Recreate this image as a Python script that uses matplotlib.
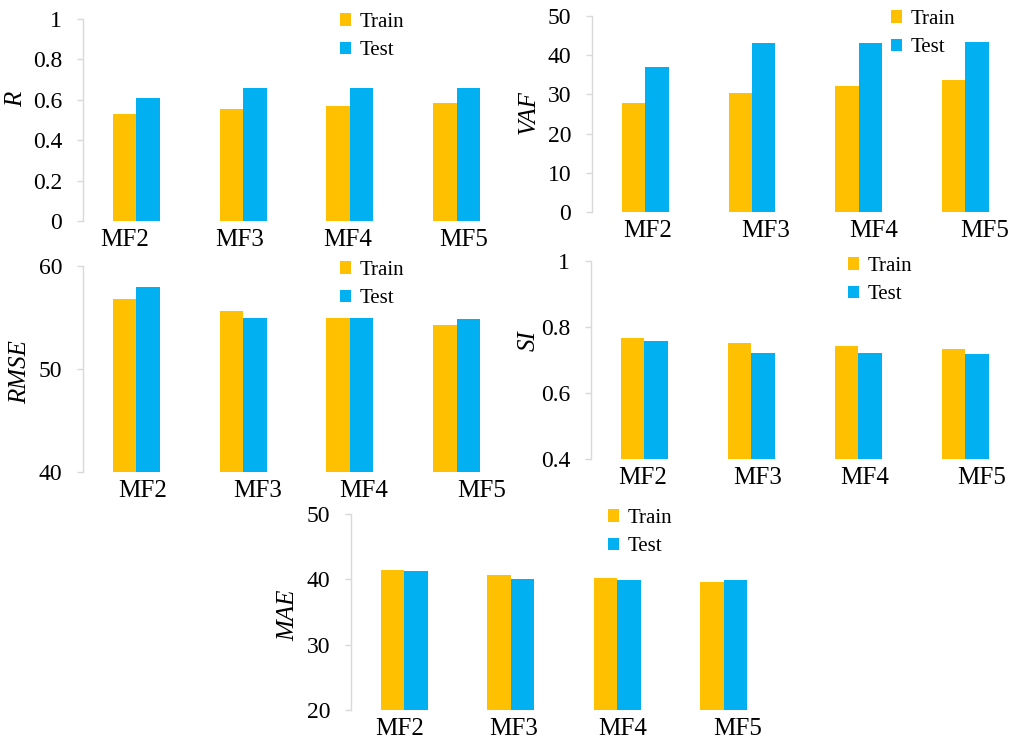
import matplotlib
matplotlib.use('Agg')
from matplotlib import pyplot as plt
import numpy as np

plt.rcParams['font.family'] = ['Liberation Serif', 'DejaVu Serif']

models = ['MF2', 'MF3', 'MF4', 'MF5']

r_train = [0.528, 0.554, 0.568, 0.584]
r_test = [0.607, 0.660, 0.660, 0.660]

vaf_train = [27.7, 30.4, 32.1, 33.8]
vaf_test = [36.9, 43.0, 43.2, 43.4]

rmse_train = [56.77, 55.66, 54.98, 54.24]
rmse_test = [57.94, 54.98, 54.92, 54.82]

si_train = [0.766, 0.751, 0.743, 0.733]
si_test = [0.759, 0.721, 0.720, 0.718]

mae_train = [41.43, 40.62, 40.16, 39.55]
mae_test = [41.28, 40.00, 39.85, 39.90]

W, H = 1011, 742
ORANGE = '#FFC000'
BLUE = '#00B0F0'
GRID = '#d9d9d9'
bw = 0.22

fig = plt.figure(figsize=(W / 100, H / 100), dpi=100)


def px_axes(left, top, right, bottom):
    return fig.add_axes([left / W, 1 - bottom / H, (right - left) / W, (bottom - top) / H])


def panel(box, train, test, ylim, yticks, ticklabels, ylab, ylab_xy, leg_xy, xmax, lab_shift):
    ax = px_axes(*box)
    x = np.arange(len(models))
    ax.bar(x - bw / 2, np.array(train) - ylim[0], bw, bottom=ylim[0], color=ORANGE, label='Train')
    ax.bar(x + bw / 2, np.array(test) - ylim[0], bw, bottom=ylim[0], color=BLUE, label='Test')
    ax.set_xlim(-0.5, xmax)
    ax.set_ylim(*ylim)
    ax.set_yticks(yticks)
    ax.set_yticklabels(ticklabels)
    # category labels sit a little off the bar pairs
    ax.set_xticks(x + np.array(lab_shift))
    ax.set_xticklabels(models)
    for s in ['top', 'right', 'bottom']:
        ax.spines[s].set_visible(False)
    ax.spines['left'].set_color(GRID)
    ax.spines['left'].set_linewidth(1.0)
    ax.tick_params(axis='y', length=4, color=GRID, width=1.0, pad=11, labelsize=17)
    ax.tick_params(axis='x', length=0, pad=6, labelsize=18)
    ax.patch.set_alpha(0)
    fig.text(ylab_xy[0] / W, 1 - ylab_xy[1] / H, ylab, rotation=90, style='italic',
             fontsize=18, ha='center', va='center')
    ax.legend(loc='upper left', bbox_to_anchor=(leg_xy[0] / W, 1 - leg_xy[1] / H),
              bbox_transform=fig.transFigure, frameon=False, fontsize=15,
              handlelength=0.55, handleheight=0.55, handletextpad=0.4,
              labelspacing=0.45, borderpad=0, borderaxespad=0)
    return ax


panel((83, 19, 510, 221), r_train, r_test, (0, 1), [0, 0.2, 0.4, 0.6, 0.8, 1],
      ['0', '0.2', '0.4', '0.6', '0.8', '1'], 'R', (16, 99), (340, 13), 3.5,
      [-0.11, -0.03, -0.02, 0.07])
panel((592, 16, 1008, 212), vaf_train, vaf_test, (0, 50), [0, 10, 20, 30, 40, 50],
      ['0', '10', '20', '30', '40', '50'], 'VAF', (529, 112), (891, 10), 3.4,
      [0.02, 0.13, 0.14, 0.18])
panel((83, 266, 510, 472), rmse_train, rmse_test, (40, 60), [40, 50, 60],
      ['40', '50', '60'], 'RMSE', (20, 372), (340, 261), 3.5,
      [0.06, 0.14, 0.13, 0.23])
panel((591, 261, 1008, 459), si_train, si_test, (0.4, 1), [0.4, 0.6, 0.8, 1],
      ['0.4', '0.6', '0.8', '1'], 'SI', (529, 341), (848, 257), 3.4,
      [-0.02, 0.06, 0.06, 0.15])
panel((351, 514, 777, 710), mae_train, mae_test, (20, 50), [20, 30, 40, 50],
      ['20', '30', '40', '50'], 'MAE', (288, 615), (608, 509), 3.5,
      [-0.04, 0.03, 0.05, 0.13])

plt.savefig('out.png', dpi=100)
